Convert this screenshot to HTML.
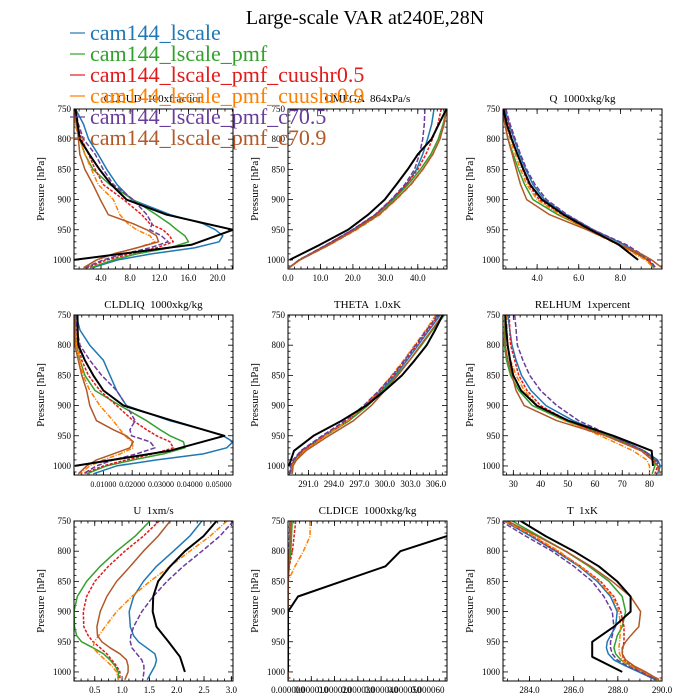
<!DOCTYPE html>
<html>
<head>
<meta charset="utf-8">
<style>
html,body{margin:0;padding:0;background:#fff;}
#wrap{position:relative;width:700px;height:700px;overflow:hidden;font-family:"Liberation Serif",serif;}
svg text{font-family:"Liberation Serif",serif;}
</style>
</head>
<body>
<div id="wrap">
<svg id="chart" width="700" height="700" viewBox="0 0 700 700">
  <text x="365" y="24" font-size="20" text-anchor="middle">Large-scale VAR at240E,28N</text>
  <g id="panels"></g>
  <g id="legend"></g>
</svg>
</div>
<script>
// ---- pressure levels ----
const obsP = [750,775,800,825,850,875,900,925,950,975,1000];
const P16 = [750,775,800,825,850,875,900,925,940,950,960,970,980,990,1000,1013];
const P13 = [750,775,800,825,850,875,900,925,950,975,990,1000,1013];
const P12 = [750,775,800,825,850,875,900,925,950,975,1000,1013];

const seriesNames = ['cam144_lscale','cam144_lscale_pmf','cam144_lscale_pmf_cuushr0.5','cam144_lscale_pmf_cuushr0.9','cam144_lscale_pmf_c70.5','cam144_lscale_pmf_c70.9'];

// ---- CLOUD ----
const cloudTicks = [4,8,12,16,20];
const cloudTickLabels = ['4.0','8.0','12.0','16.0','20.0'];
const cloudObs = [0.5,0.8,1.1,2.4,3.8,5.4,7.5,13,22.1,16.4,0.3];
const cloudLscale = [0.5,1.6,2.3,3.6,4.8,6.2,8.2,13.5,18,19.7,20.7,20.2,16.8,10.9,6.3,2.8];
const cloudPmf = [0.3,0.6,1.1,1.8,2.9,5.2,8.4,11.6,13.4,14.4,15.5,16,13.4,8.9,5.7,2.5];
const cloudCu05 = [0.4,0.7,1.35,2.3,3.2,4.3,7.1,9.6,10.7,12.5,13.4,13.9,11.6,8,4.8,2.0];
const cloudCu09 = [0.3,0.4,1.1,1.8,2.7,3.6,5.7,6.6,7.7,8.9,10.7,11.4,8.9,5.7,3.4,1.6];
const cloudC705 = [0.5,0.9,1.6,3.2,4.3,5.7,8.4,10.3,11,10.7,12.3,13.2,10.7,7.1,4.3,1.8];
const cloudC709 = [0.3,0.7,0.9,1.1,1.8,2.9,3.9,5.0,8.4,10.3,11.6,11.9,8.9,5.7,3.4,1.6];

// ---- OMEGA ----
const omegaTicks = [0,10,20,30,40];
const omegaTickLabels = ['0.0','10.0','20.0','30.0','40.0'];
const omegaObs = [48.8,46.5,44.2,40,36.9,33.4,29.8,24.7,18.5,9.8,0.5];
const omegaLscale = [45,44.3,43,41.5,39.6,36.5,32,27,20,12,3.5,0.3];
const omegaPmf = [48.8,47.8,46.3,44,40.8,37,32.5,27.3,20.3,12.3,3.5,0.3];
const omegaCu05 = [47.2,46.2,44.5,42.5,40,36.5,32,27,20,12,3.5,0.3];
const omegaCu09 = [48.8,48,46.8,44.7,41.6,38,33.4,28.3,21.1,12.9,3.7,0.3];
const omegaC705 = [42.2,42,41.5,40.5,39,36,31.8,26.8,19.8,11.8,3.4,0.3];
const omegaC709 = [48.9,48.1,46.8,44.6,41.5,37.8,33.2,28,20.8,12.7,3.7,0.3];

// ---- Q ----
const qTicks = [4,6,8];
const qTickLabels = ['4.0','6.0','8.0'];
const qObs = [2.38,2.54,2.78,3.05,3.34,3.66,4.23,5.27,6.56,7.93,8.85];
const qLscale = [2.45,2.65,2.9,3.15,3.45,3.8,4.35,5.4,6.7,8.2,8.9,9.3,9.6];
const qPmf = [2.36,2.45,2.6,2.85,3.1,3.4,3.8,5.0,6.5,8.0,8.8,9.3,9.6];
const qCu05 = [2.4,2.6,2.8,3.05,3.3,3.6,4.1,5.2,6.5,8.0,8.8,9.3,9.7];
const qCu09 = [2.38,2.5,2.7,2.95,3.2,3.5,4.0,5.1,6.4,7.9,8.7,9.2,9.6];
const qC705 = [2.5,2.7,2.95,3.2,3.5,3.9,4.45,5.45,6.7,8.3,9.0,9.4,9.7];
const qC709 = [2.36,2.45,2.6,2.8,3.0,3.2,3.5,4.6,6.4,8.0,9.0,9.5,10.0];

// ---- CLDLIQ ----
const liqTicks = [0.01,0.02,0.03,0.04,0.05];
const liqTickLabels = ['0.01000','0.02000','0.03000','0.04000','0.05000'];
const liqObs = [0.0010,0.0011,0.0013,0.0036,0.0065,0.010,0.017,0.034,0.052,0.033,0.0001];
const liqLscale = [0.0005,0.0019,0.0053,0.010,0.0123,0.0146,0.018,0.033,0.0447,0.0516,0.055,0.0528,0.0447,0.0285,0.0146,0.0065];
const liqPmf = [0.0002,0.0001,0.0007,0.0019,0.0036,0.0071,0.0158,0.025,0.0297,0.0331,0.0378,0.0383,0.0308,0.0204,0.011,0.0042];
const liqCu05 = [0.0001,0.0005,0.0013,0.0025,0.0048,0.0088,0.0146,0.0204,0.025,0.0285,0.0331,0.0343,0.0273,0.018,0.010,0.003];
const liqCu09 = [0.0002,0.0004,0.0007,0.0019,0.003,0.0053,0.0088,0.0134,0.0158,0.0175,0.0198,0.0204,0.0158,0.010,0.0053,0.0019];
const liqC705 = [0.0002,0.0008,0.0019,0.0053,0.0094,0.0146,0.018,0.021,0.0192,0.0198,0.0262,0.0279,0.0215,0.0134,0.0076,0.003];
const liqC709 = [0.0001,0.0001,0.0001,0.0013,0.0025,0.0042,0.0053,0.0076,0.0134,0.018,0.0204,0.0192,0.0134,0.0076,0.0042,0.0013];

// ---- THETA ----
const thetaTicks = [291,294,297,300,303,306];
const thetaTickLabels = ['291.0','294.0','297.0','300.0','303.0','306.0'];
const thetaObs = [306.8,305.9,304.9,303.5,302.0,300.0,297.8,294.9,291.6,289.3,288.7];
const thetaLscale = [306.5,305.2,303.9,302.6,301.2,299.6,297.8,295.6,292.8,290.2,289.3,289.0,288.9];
const thetaPmf = [307.0,305.6,304.3,302.9,301.4,299.8,298.0,295.8,293.0,290.4,289.5,289.1,289.0];
const thetaCu05 = [306.3,305.0,303.7,302.4,301.0,299.4,297.7,295.6,292.9,290.3,289.4,289.0,288.9];
const thetaCu09 = [306.0,304.8,303.5,302.2,300.8,299.3,297.6,295.6,293.0,290.5,289.5,289.1,289.0];
const thetaC705 = [306.2,304.9,303.6,302.3,300.9,299.3,297.5,295.3,292.6,290.1,289.2,288.9,288.8];
const thetaC709 = [306.8,305.5,304.2,302.9,301.5,300.0,298.4,296.3,293.4,290.7,289.6,289.2,289.1];

// ---- RELHUM ----
const rhTicks = [30,40,50,60,70,80];
const rhTickLabels = ['30','40','50','60','70','80'];
const rhObs = [27,27.4,27.9,28.8,30,32.8,38.6,50.2,66.8,80.8,81.3];
const rhLscale = [28,28.7,29.5,31,33,36.5,42,52,66,78,83,84,83];
const rhPmf = [27,26.8,26.7,27.5,29,32,37,49,65,78,82,82,81];
const rhCu05 = [28.5,28.7,29,30.5,32,35,40,50,64,77,82,83,82];
const rhCu09 = [27.5,27.7,28,29,31,34,39,49,62,74,79,80,80];
const rhC705 = [30.5,31,31.5,33.5,36,40,46,54,66,78,82.5,83.5,83];
const rhC709 = [27,27,27,28,29.5,31,34,46,64,77,81,83,84];

// ---- U ----
const uTicks = [0.5,1.0,1.5,2.0,2.5,3.0];
const uTickLabels = ['0.5','1.0','1.5','2.0','2.5','3.0'];
const uObs = [2.73,2.49,2.15,1.88,1.66,1.57,1.56,1.63,1.85,2.06,2.15];
const uLscale = [2.46,2.24,1.94,1.63,1.39,1.21,1.13,1.15,1.21,1.30,1.45,1.6,1.63,1.6,1.54,1.46];
const uPmf = [1.51,1.24,0.9,0.6,0.35,0.18,0.12,0.13,0.17,0.26,0.47,0.66,0.78,0.87,0.93,0.93];
const uCu05 = [1.68,1.39,1.05,0.75,0.5,0.35,0.29,0.30,0.38,0.47,0.6,0.72,0.81,0.9,0.96,0.96];
const uCu09 = [2.92,2.61,2.24,1.88,1.51,1.18,0.9,0.69,0.57,0.49,0.47,0.57,0.69,0.81,0.9,0.93];
const uC705 = [3.04,2.79,2.46,2.12,1.82,1.57,1.36,1.21,1.16,1.15,1.18,1.27,1.36,1.4,1.4,1.38];
const uC709 = [1.88,1.66,1.39,1.15,0.9,0.72,0.6,0.54,0.55,0.63,0.78,0.96,1.08,1.11,1.11,1.05];

// ---- CLDICE ----
const iceTicks = [0,0.00001,0.00002,0.00003,0.00004,0.00005,0.00006];
const iceTickLabels = ['0.000000','0.000010','0.000020','0.000030','0.000040','0.000050','0.000060'];
const iceObs = [0.000085,0.0000683,0.0000483,0.0000419,0.000023,0.0000043,0,0,0,0,0];
const iceLscale = [0.0000012,0.000001,0.0000008,0.0000004,0,0,0,0,0,0,0,0];
const icePmf = [0.0000018,0.0000015,0.0000012,0.0000005,0,0,0,0,0,0,0,0];
const iceCu05 = [0.0000033,0.0000026,0.0000019,0.0000005,0,0,0,0,0,0,0,0];
const iceCu09 = [0.0000094,0.0000095,0.0000066,0.000003,0,0,0,0,0,0,0,0];
const iceC705 = [0.0000008,0.0000007,0.0000005,0.0000002,0,0,0,0,0,0,0,0];
const iceC709 = [0.000001,0.0000009,0.0000006,0.0000003,0,0,0,0,0,0,0,0];

// ---- T ----
const tTicks = [284,286,288,290];
const tTickLabels = ['284.0','286.0','288.0','290.0'];
const tObs = [283.6,284.73,286.01,287.14,287.97,288.58,288.58,287.82,286.84,286.84,288.2];
const tLscale = [282.85,284.05,285.18,286.24,287.07,287.67,287.97,287.9,287.67,287.52,287.48,287.57,287.82,288.35,288.95,289.71];
const tPmf = [283.22,284.43,285.64,286.69,287.6,288.2,288.35,288.2,287.97,287.9,287.82,287.9,288.13,288.58,289.11,289.78];
const tCu05 = [282.92,284.13,285.26,286.32,287.22,287.82,288.13,288.28,288.28,288.28,288.23,288.2,288.28,288.65,289.11,289.86];
const tCu09 = [282.89,284.2,285.33,286.3,287.15,287.75,288.05,288.13,288.1,288.08,288.05,288.08,288.2,288.58,289.1,289.94];
const tC705 = [282.70,283.83,285.03,286.01,286.84,287.37,287.75,287.82,287.75,287.67,287.67,287.75,287.97,288.43,289.03,289.71];
const tC709 = [283.0,284.35,285.64,286.77,287.75,288.58,289.03,288.95,288.58,288.35,288.2,288.2,288.35,288.73,289.26,289.86];

// ---- styles / layout ----
const styles = [
  {color:'#1f78b4', w:1.5, dash:''},
  {color:'#33a02c', w:1.5, dash:''},
  {color:'#e31a1c', w:1.5, dash:'3,1.5'},
  {color:'#ff7f00', w:1.5, dash:'5,1.5,1,1.5'},
  {color:'#6a3d9a', w:1.5, dash:'5,2'},
  {color:'#b15928', w:1.5, dash:''}
];
const colX = [74,288,503], rowY = [109,315,521], PW = 159, PH = 160;
const PMIN = 750, PMAX = 1015;

const panels = [
  {key:'cloud', title:'CLOUD  100xfraction', c:0, r:0, xmin:0.3, xmax:22.1, minor:1, fs:9, ticks:cloudTicks, labels:cloudTickLabels, obs:cloudObs, mp:P16, models:[cloudLscale,cloudPmf,cloudCu05,cloudCu09,cloudC705,cloudC709]},
  {key:'omega', title:'OMEGA  864xPa/s', c:1, r:0, xmin:0, xmax:49, minor:2, fs:9, ticks:omegaTicks, labels:omegaTickLabels, obs:omegaObs, mp:P12, models:[omegaLscale,omegaPmf,omegaCu05,omegaCu09,omegaC705,omegaC709]},
  {key:'q', title:'Q  1000xkg/kg', c:2, r:0, xmin:2.36, xmax:10.0, minor:0.5, fs:9, ticks:qTicks, labels:qTickLabels, obs:qObs, mp:P13, models:[qLscale,qPmf,qCu05,qCu09,qC705,qC709]},
  {key:'cldliq', title:'CLDLIQ  1000xkg/kg', c:0, r:1, xmin:-0.0002, xmax:0.055, minor:0.0025, fs:8, ticks:liqTicks, labels:liqTickLabels, obs:liqObs, mp:P16, models:[liqLscale,liqPmf,liqCu05,liqCu09,liqC705,liqC709]},
  {key:'theta', title:'THETA  1.0xK', c:1, r:1, xmin:288.6, xmax:307.3, minor:0.75, fs:9, ticks:thetaTicks, labels:thetaTickLabels, obs:thetaObs, mp:P13, models:[thetaLscale,thetaPmf,thetaCu05,thetaCu09,thetaC705,thetaC709]},
  {key:'relhum', title:'RELHUM  1xpercent', c:2, r:1, xmin:26.2, xmax:84.6, minor:2.5, fs:9, ticks:rhTicks, labels:rhTickLabels, obs:rhObs, mp:P13, models:[rhLscale,rhPmf,rhCu05,rhCu09,rhC705,rhC709]},
  {key:'u', title:'U  1xm/s', c:0, r:2, xmin:0.12, xmax:3.03, minor:0.125, fs:9, ticks:uTicks, labels:uTickLabels, obs:uObs, mp:P16, models:[uLscale,uPmf,uCu05,uCu09,uC705,uC709]},
  {key:'cldice', title:'CLDICE  1000xkg/kg', c:1, r:2, xmin:0, xmax:0.0000683, minor:0.0000025, fs:9, ticks:iceTicks, labels:iceTickLabels, obs:iceObs, mp:P12, models:[iceLscale,icePmf,iceCu05,iceCu09,iceC705,iceC709]},
  {key:'t', title:'T  1xK', c:2, r:2, xmin:282.8, xmax:290.0, minor:0.5, fs:9, ticks:tTicks, labels:tTickLabels, obs:tObs, mp:P16, models:[tLscale,tPmf,tCu05,tCu09,tC705,tC709]}
];

const NS = 'http://www.w3.org/2000/svg';
function mk(tag, attrs, parent){
  const e = document.createElementNS(NS, tag);
  for (const k in attrs) e.setAttribute(k, attrs[k]);
  if (parent) parent.appendChild(e);
  return e;
}
const root = document.getElementById('panels');
const defs = mk('defs', {}, root);

panels.forEach(function(pn){
  const L = colX[pn.c], T = rowY[pn.r];
  const xs = function(v){ return L + (v - pn.xmin) / (pn.xmax - pn.xmin) * PW; };
  const ys = function(p){ return T + (p - PMIN) / (PMAX - PMIN) * PH; };
  const g = mk('g', {}, root);
  
  

  const cp = mk('clipPath', {id:'clip-' + pn.key}, defs);
  mk('rect', {x:L, y:T, width:PW, height:PH}, cp);

  const tt = mk('text', {x:L + PW/2, y:T - 7, 'font-size':11, 'text-anchor':'middle', 'xml:space':'preserve'}, g);
  tt.style.whiteSpace = 'pre';
  tt.textContent = pn.title;
  
  

  const yt = mk('text', {x:0, y:0, 'font-size':11, 'text-anchor':'middle', transform:'translate(' + (L - 30) + ',' + (T + PH/2) + ') rotate(-90)'}, g);
  yt.textContent = 'Pressure [hPa]';
  
  

  const tk = mk('g', {stroke:'#000', 'stroke-width':0.8}, g);
  
  
  for (let p = 750; p <= PMAX; p += 10) {
    const y = ys(p), major = (p % 50 === 0);
    const len = major ? 5 : 2.5;
    mk('line', {x1:L, y1:y, x2:L + len, y2:y}, tk);
    mk('line', {x1:L + PW, y1:y, x2:L + PW - len, y2:y}, tk);
  }
  for (let p = 750; p <= 1000; p += 50) {
    const lb = mk('text', {x:L - 3, y:ys(p) + 3, 'font-size':9, 'text-anchor':'end'}, g);
    lb.textContent = String(p);
    
    
  }
  const mstart = Math.ceil(pn.xmin / pn.minor - 1e-9);
  for (let i = mstart; i * pn.minor <= pn.xmax + 1e-12; i++) {
    const x = xs(i * pn.minor);
    mk('line', {x1:x, y1:T + PH, x2:x, y2:T + PH - 2.5}, tk);
    mk('line', {x1:x, y1:T, x2:x, y2:T + 2.5}, tk);
  }
  pn.ticks.forEach(function(v, i){
    const x = xs(v);
    mk('line', {x1:x, y1:T + PH, x2:x, y2:T + PH - 5}, tk);
    mk('line', {x1:x, y1:T, x2:x, y2:T + 5}, tk);
    const lb = mk('text', {x:x, y:T + PH + 12, 'font-size':pn.fs, 'text-anchor':'middle'}, g);
    lb.textContent = pn.labels[i];
    
    
  });

  const sg = mk('g', {'clip-path':'url(#clip-' + pn.key + ')', fill:'none'}, g);
  pn.models.forEach(function(arr, si){
    const st = styles[si];
    const pts = arr.map(function(v, j){ return xs(v).toFixed(1) + ',' + ys(pn.mp[j]).toFixed(1); }).join(' ');
    const pl = mk('polyline', {points:pts, stroke:st.color, 'stroke-width':st.w, 'stroke-dasharray':st.dash, 'stroke-linejoin':'round'}, sg);
    
    
  });
  const opts = pn.obs.map(function(v, j){ return xs(v).toFixed(1) + ',' + ys(obsP[j]).toFixed(1); }).join(' ');
  const ol = mk('polyline', {points:opts, stroke:'#000', 'stroke-width':2, 'stroke-linejoin':'round'}, sg);
  
  

  const fr = mk('rect', {x:L, y:T, width:PW, height:PH, fill:'none', stroke:'#000', 'stroke-width':1}, g);
  
  
});

const lg = document.getElementById('legend');
seriesNames.forEach(function(nm, i){
  const y = 33 + i * 21;
  const eg = mk('g', {}, lg);
  
  
  mk('line', {x1:70, y1:y, x2:85, y2:y, stroke:styles[i].color, 'stroke-width':1.2}, eg);
  const t = mk('text', {x:90, y:y + 7, 'font-size':22, fill:styles[i].color}, eg);
  t.textContent = nm;
});
</script>
</body>
</html>
